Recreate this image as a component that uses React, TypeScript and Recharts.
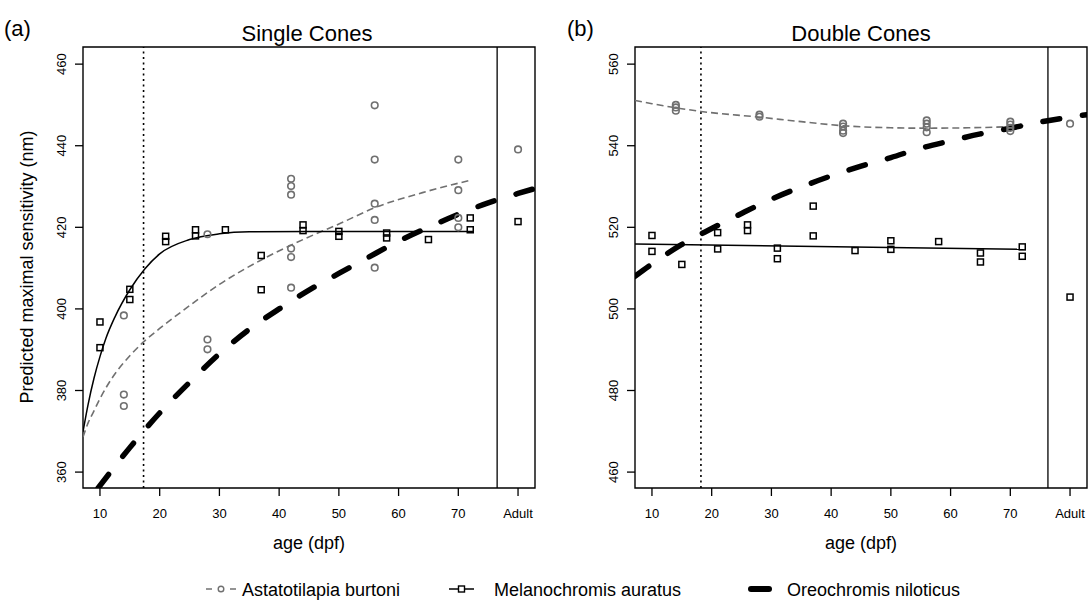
import React from "react";
import {
  ComposedChart,
  Line,
  Scatter,
  XAxis,
  YAxis,
  ReferenceLine,
  ReferenceArea,
} from "recharts";

const FONT = '"Liberation Sans", Arial, Helvetica, sans-serif';
const GREY = "#707070";

// shared x axis (age, dpf); "Adult" is plotted at 80
const ageTicks = [10, 20, 30, 40, 50, 60, 70, 80];
const adultAge = 80;
const xDomain: [number, number] = [7.16, 82.84];

// (a) single cones
const singleTicks = [360, 380, 400, 420, 440, 460];
const singleDomain: [number, number] = [356.1, 464.2];
const singleSeparator = 76.5;
const singleDotted = 17.3;

const singleBurtoni = [
  { age: 14, nm: 398.4 }, { age: 14, nm: 379.0 }, { age: 14, nm: 376.2 },
  { age: 28, nm: 418.3 }, { age: 28, nm: 392.5 }, { age: 28, nm: 390.1 },
  { age: 42, nm: 431.9 }, { age: 42, nm: 430.1 }, { age: 42, nm: 428.0 },
  { age: 42, nm: 414.8 }, { age: 42, nm: 412.7 }, { age: 42, nm: 405.2 },
  { age: 56, nm: 449.9 }, { age: 56, nm: 436.6 }, { age: 56, nm: 425.8 },
  { age: 56, nm: 421.8 }, { age: 56, nm: 410.1 },
  { age: 70, nm: 436.6 }, { age: 70, nm: 429.1 }, { age: 70, nm: 422.3 },
  { age: 70, nm: 420.0 },
  { age: 80, nm: 439.1 },
];

const singleAuratus = [
  { age: 10, nm: 396.8 }, { age: 10, nm: 390.5 },
  { age: 15, nm: 404.8 }, { age: 15, nm: 402.3 },
  { age: 21, nm: 417.8 }, { age: 21, nm: 416.5 },
  { age: 26, nm: 419.4 }, { age: 26, nm: 417.9 },
  { age: 31, nm: 419.4 },
  { age: 37, nm: 413.1 }, { age: 37, nm: 404.7 },
  { age: 44, nm: 420.6 }, { age: 44, nm: 419.2 },
  { age: 50, nm: 419.0 }, { age: 50, nm: 417.8 },
  { age: 58, nm: 418.6 }, { age: 58, nm: 417.4 },
  { age: 65, nm: 417.0 },
  { age: 72, nm: 422.3 }, { age: 72, nm: 419.4 },
  { age: 80, nm: 421.4 },
];

const singleBurtoniFit = [
  { age: 7.16, nm: 368.6 }, { age: 8, nm: 372 }, { age: 9, nm: 375 },
  { age: 10, nm: 378 }, { age: 12, nm: 383 }, { age: 15, nm: 388.5 },
  { age: 17.3, nm: 391.9 }, { age: 20, nm: 395.2 }, { age: 24, nm: 399.7 },
  { age: 30, nm: 406 }, { age: 37, nm: 412 }, { age: 44, nm: 417 },
  { age: 50, nm: 420.8 }, { age: 56, nm: 424.8 }, { age: 64, nm: 428.5 },
  { age: 72.2, nm: 431.6 },
];

const singleAuratusFit = [
  { age: 7.16, nm: 369.9 }, { age: 8, nm: 376.5 }, { age: 9, nm: 383 },
  { age: 10, nm: 388.3 }, { age: 11, nm: 392.8 }, { age: 12.5, nm: 398 },
  { age: 15, nm: 404.7 }, { age: 17.5, nm: 409.8 }, { age: 20, nm: 413.5 },
  { age: 25, nm: 417 }, { age: 30, nm: 418.4 }, { age: 35, nm: 418.9 },
  { age: 45, nm: 419 }, { age: 72.5, nm: 419 },
];

const singleNiloticusFit = [
  { age: 9.7, nm: 356.1 }, { age: 15, nm: 366 }, { age: 20, nm: 374.5 },
  { age: 25, nm: 382 }, { age: 30, nm: 389 }, { age: 35, nm: 395 },
  { age: 40, nm: 400 }, { age: 45, nm: 404.6 }, { age: 50, nm: 408.7 },
  { age: 55, nm: 412.7 }, { age: 60, nm: 416.6 }, { age: 65, nm: 420 },
  { age: 70, nm: 423.2 }, { age: 75, nm: 426 }, { age: 80, nm: 428.3 },
  { age: 82.8, nm: 429.5 },
];

// (b) double cones
const doubleTicks = [460, 480, 500, 520, 540, 560];
const doubleDomain: [number, number] = [456.1, 564.2];
const doubleSeparator = 76.3;
const doubleDotted = 18.2;

const doubleBurtoni = [
  { age: 14, nm: 550.0 }, { age: 14, nm: 549.4 }, { age: 14, nm: 548.6 },
  { age: 28, nm: 547.6 }, { age: 28, nm: 547.1 },
  { age: 42, nm: 545.4 }, { age: 42, nm: 544.7 }, { age: 42, nm: 543.7 }, { age: 42, nm: 543.1 },
  { age: 56, nm: 546.2 }, { age: 56, nm: 545.4 }, { age: 56, nm: 544.5 }, { age: 56, nm: 543.3 },
  { age: 70, nm: 545.9 }, { age: 70, nm: 545.2 }, { age: 70, nm: 544.4 }, { age: 70, nm: 543.6 },
  { age: 80, nm: 545.4 },
];

const doubleAuratus = [
  { age: 10, nm: 518.0 }, { age: 10, nm: 514.1 },
  { age: 15, nm: 510.9 },
  { age: 21, nm: 518.7 }, { age: 21, nm: 514.7 },
  { age: 26, nm: 520.6 }, { age: 26, nm: 519.2 },
  { age: 31, nm: 514.9 }, { age: 31, nm: 512.3 },
  { age: 37, nm: 525.2 }, { age: 37, nm: 517.9 },
  { age: 44, nm: 514.3 },
  { age: 50, nm: 516.7 }, { age: 50, nm: 514.6 },
  { age: 58, nm: 516.5 },
  { age: 65, nm: 513.7 }, { age: 65, nm: 511.5 },
  { age: 72, nm: 515.2 }, { age: 72, nm: 512.9 },
  { age: 80, nm: 502.9 },
];

const doubleBurtoniFit = [
  { age: 7.16, nm: 551.1 }, { age: 10, nm: 550.3 }, { age: 14, nm: 549.3 },
  { age: 18.2, nm: 548.4 }, { age: 28, nm: 547 }, { age: 35, nm: 545.9 },
  { age: 42, nm: 544.9 }, { age: 50, nm: 544.4 }, { age: 56, nm: 544.3 },
  { age: 63, nm: 544.4 }, { age: 70, nm: 544.7 }, { age: 72.2, nm: 544.9 },
];

const doubleAuratusFit = [
  { age: 7.16, nm: 515.9 },
  { age: 72.2, nm: 514.6 },
];

const doubleNiloticusFit = [
  { age: 7.16, nm: 508 }, { age: 10, nm: 511 }, { age: 15, nm: 515.8 },
  { age: 20, nm: 519.7 }, { age: 25, nm: 523.4 }, { age: 30, nm: 526.9 },
  { age: 35, nm: 529.9 }, { age: 40, nm: 532.6 }, { age: 45, nm: 535 },
  { age: 50, nm: 537.1 }, { age: 55, nm: 539.4 }, { age: 60, nm: 541.2 },
  { age: 65, nm: 542.9 }, { age: 70, nm: 544.3 }, { age: 75, nm: 545.8 },
  { age: 80, nm: 547 }, { age: 82.8, nm: 547.6 },
];

const species = ["Astatotilapia burtoni", "Melanochromis auratus", "Oreochromis niloticus"];

function CircleMark(props: any) {
  const { cx, cy } = props;
  if (cx == null || cy == null) return null;
  return <circle cx={cx} cy={cy} r={3.3} fill="none" stroke={GREY} strokeWidth={1.6} />;
}

function SquareMark(props: any) {
  const { cx, cy } = props;
  if (cx == null || cy == null) return null;
  return <rect x={cx - 3} y={cy - 3} width={6} height={6} fill="none" stroke="#000" strokeWidth={1.5} />;
}

function RotatedTick(props: any) {
  const { x, y, payload } = props;
  return (
    <text
      x={x}
      y={y}
      transform={`rotate(-90 ${x} ${y})`}
      textAnchor="middle"
      fontSize={13}
      fontFamily={FONT}
      fill="#000"
    >
      {payload.value}
    </text>
  );
}

interface PanelProps {
  left: number;
  width: number;
  marginLeft: number;
  marginRight: number;
  yTicks: number[];
  yDomain: [number, number];
  separator: number;
  dotted: number;
  burtoni: { age: number; nm: number }[];
  auratus: { age: number; nm: number }[];
  burtoniFit: { age: number; nm: number }[];
  auratusFit: { age: number; nm: number }[];
  niloticusFit: { age: number; nm: number }[];
}

function Panel(p: PanelProps) {
  return (
    <div style={{ position: "absolute", left: p.left, top: 0 }}>
      <ComposedChart
        width={p.width}
        height={604}
        margin={{ top: 47, right: p.marginRight, left: p.marginLeft, bottom: 76 }}
      >
        <XAxis
          type="number"
          dataKey="age"
          domain={xDomain}
          allowDataOverflow
          ticks={ageTicks}
          interval={0}
          height={40}
          tickSize={8}
          tickMargin={13}
          axisLine={false}
          tickLine={{ stroke: "#000", strokeWidth: 1.3 }}
          tick={{ fontSize: 13, fill: "#000", fontFamily: FONT }}
          tickFormatter={(v: number) => (v === adultAge ? "Adult" : String(v))}
        />
        <YAxis
          type="number"
          dataKey="nm"
          domain={p.yDomain}
          allowDataOverflow
          ticks={p.yTicks}
          interval={0}
          width={45}
          tickSize={8}
          tickMargin={9}
          axisLine={false}
          tickLine={{ stroke: "#000", strokeWidth: 1.3 }}
          tick={<RotatedTick />}
        />
        <ReferenceArea
          x1={xDomain[0]}
          x2={xDomain[1]}
          y1={p.yDomain[0]}
          y2={p.yDomain[1]}
          fill="none"
          stroke="#000"
          strokeWidth={1.4}
          ifOverflow="visible"
        />
        <ReferenceLine x={p.separator} stroke="#000" strokeWidth={1.3} />
        <ReferenceLine x={p.dotted} stroke="#000" strokeWidth={1.6} strokeDasharray="2 3.5" />
        <Scatter data={p.burtoni} shape={<CircleMark />} isAnimationActive={false} />
        <Scatter data={p.auratus} shape={<SquareMark />} isAnimationActive={false} />
        <Line
          data={p.burtoniFit}
          dataKey="nm"
          type="monotone"
          stroke={GREY}
          strokeWidth={1.6}
          strokeDasharray="7 4"
          dot={false}
          activeDot={false}
          isAnimationActive={false}
        />
        <Line
          data={p.auratusFit}
          dataKey="nm"
          type="monotone"
          stroke="#000"
          strokeWidth={1.5}
          dot={false}
          activeDot={false}
          isAnimationActive={false}
        />
        <Line
          data={p.niloticusFit}
          dataKey="nm"
          type="monotone"
          stroke="#000"
          strokeWidth={5.5}
          strokeDasharray="17 23"
          strokeLinecap="round"
          dot={false}
          activeDot={false}
          isAnimationActive={false}
        />
      </ComposedChart>
    </div>
  );
}

export default function App() {
  return (
    <div
      style={{
        position: "absolute",
        left: 0,
        top: 0,
        width: 1091,
        height: 604,
        background: "#fff",
        fontFamily: FONT,
      }}
    >
      <Panel
        left={0}
        width={545}
        marginLeft={38}
        marginRight={10}
        yTicks={singleTicks}
        yDomain={singleDomain}
        separator={singleSeparator}
        dotted={singleDotted}
        burtoni={singleBurtoni}
        auratus={singleAuratus}
        burtoniFit={singleBurtoniFit}
        auratusFit={singleAuratusFit}
        niloticusFit={singleNiloticusFit}
      />
      <Panel
        left={560}
        width={531}
        marginLeft={30}
        marginRight={4}
        yTicks={doubleTicks}
        yDomain={doubleDomain}
        separator={doubleSeparator}
        dotted={doubleDotted}
        burtoni={doubleBurtoni}
        auratus={doubleAuratus}
        burtoniFit={doubleBurtoniFit}
        auratusFit={doubleAuratusFit}
        niloticusFit={doubleNiloticusFit}
      />
      <svg
        width={1091}
        height={604}
        style={{ position: "absolute", left: 0, top: 0, pointerEvents: "none" }}
        fontFamily={FONT}
      >
        <text x={4} y={36} fontSize={22}>(a)</text>
        <text x={567} y={36} fontSize={22}>(b)</text>
        <text x={307} y={41} fontSize={22} textAnchor="middle">Single Cones</text>
        <text x={861} y={41} fontSize={22} textAnchor="middle">Double Cones</text>
        <text
          x={33}
          y={267}
          fontSize={18}
          textAnchor="middle"
          transform="rotate(-90 33 267)"
        >
          Predicted maximal sensitivity (nm)
        </text>
        <text x={309} y={549} fontSize={18} textAnchor="middle">age (dpf)</text>
        <text x={861} y={549} fontSize={18} textAnchor="middle">age (dpf)</text>

        {/* legend */}
        <line x1={206} y1={589} x2={212} y2={589} stroke={GREY} strokeWidth={1.5} />
        <circle cx={221} cy={589} r={2.8} fill="none" stroke={GREY} strokeWidth={1.4} />
        <line x1={230} y1={589} x2={236} y2={589} stroke={GREY} strokeWidth={1.5} />
        <text x={242} y={596} fontSize={18}>{species[0]}</text>

        <line x1={449} y1={589} x2={474} y2={589} stroke="#000" strokeWidth={1.5} />
        <rect x={458.5} y={586} width={6} height={6} fill="#fff" stroke="#000" strokeWidth={1.4} />
        <text x={494} y={596} fontSize={18}>{species[1]}</text>

        <line x1={751} y1={589} x2={769} y2={589} stroke="#000" strokeWidth={6} strokeLinecap="round" />
        <text x={787} y={596} fontSize={18}>{species[2]}</text>
      </svg>
    </div>
  );
}
